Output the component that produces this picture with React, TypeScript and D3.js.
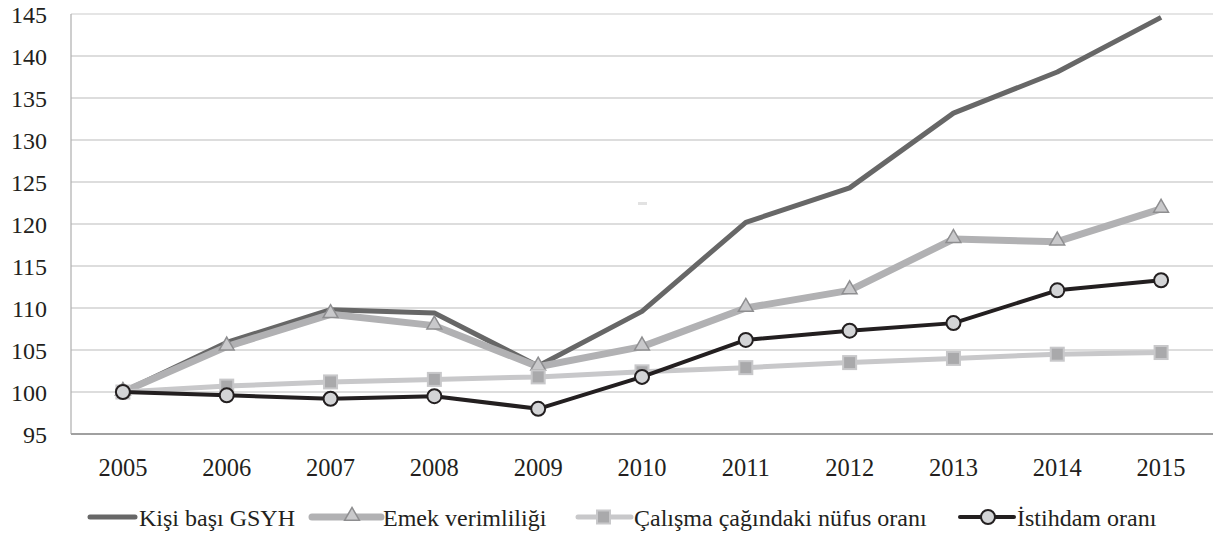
import React from "react";
import * as d3 from "d3";

const years = ["2005", "2006", "2007", "2008", "2009", "2010", "2011", "2012", "2013", "2014", "2015"];
const kisiBasiGSYH = [100, 105.9, 109.8, 109.4, 103.1, 109.6, 120.2, 124.3, 133.2, 138.1, 144.6];
const emekVerimliligi = [100, 105.4, 109.25, 107.9, 103.0, 105.4, 110.0, 112.1, 118.2, 117.9, 121.8];
const calismaNufus = [100, 100.7, 101.2, 101.5, 101.8, 102.4, 102.9, 103.5, 104.0, 104.5, 104.7];
const istihdamOrani = [100, 99.6, 99.2, 99.5, 98.0, 101.8, 106.2, 107.3, 108.2, 112.1, 113.3];
const yTicks = [95, 100, 105, 110, 115, 120, 125, 130, 135, 140, 145];
const seriesNames = ["Kişi başı GSYH", "Emek verimliliği", "Çalışma çağındaki nüfus oranı", "İstihdam oranı"];

const W = 1219;
const H = 536;
const left = 71;
const right = 1213;
const top = 14;
const bottom = 434;
const FONT = "Liberation Serif";

export default function App() {
  const x = d3.scalePoint<string>().domain(years).range([left, right]).padding(0.5);
  const y = d3.scaleLinear().domain([95, 145]).range([bottom, top]);
  const line = d3
    .line<number>()
    .x((_, i) => x(years[i]) as number)
    .y((v) => y(v));

  const tri = d3.symbol().type(d3.symbolTriangle).size(95)() as string;
  const legendY = 517;

  return (
    <div style={{ fontFamily: "'Liberation Serif', serif" }}>
      <svg width={W} height={H} style={{ position: "absolute", left: 0, top: 0, background: "#fff" }}>
        <style>{`text { font-family: 'Liberation Serif', serif; }`}</style>
        <rect x={0} y={0} width={W} height={H} fill="#fff" />
        {yTicks.map((t) => (
          <line
            key={t}
            x1={left}
            x2={right}
            y1={y(t)}
            y2={y(t)}
            stroke={t === 145 ? "#dcdcdc" : "#d2d2d2"}
            strokeWidth={1.3}
          />
        ))}
        <line x1={left} x2={left} y1={top} y2={bottom} stroke="#b4b4b4" strokeWidth={1.3} />
        <line x1={left} x2={right} y1={bottom} y2={bottom} stroke="#a0a0a0" strokeWidth={2} />
        <g fontFamily={FONT}>
          {yTicks.map((t) => (
            <text key={t} x={47} y={y(t) + 8.5} textAnchor="end" fontSize={24} fill="#231f20" fontFamily={FONT}>
              {t}
            </text>
          ))}
          {years.map((yr) => (
            <text key={yr} x={x(yr)} y={476} textAnchor="middle" fontSize={24.5} fill="#231f20" fontFamily={FONT}>
              {yr}
            </text>
          ))}
        </g>
        <rect x={638} y={202} width={9} height={3} fill="#e2e2e2" />

        <path d={line(kisiBasiGSYH) as string} fill="none" stroke="#676767" strokeWidth={5} strokeLinejoin="round" />
        <path d={line(emekVerimliligi) as string} fill="none" stroke="#b1b1b3" strokeWidth={7} strokeLinejoin="round" />
        {emekVerimliligi.map((v, i) => (
          <path
            key={i}
            d={tri}
            transform={`translate(${x(years[i])},${y(v) - 1})`}
            fill="#c9c9cb"
            stroke="#8e8e90"
            strokeWidth={1.5}
          />
        ))}
        <path d={line(calismaNufus) as string} fill="none" stroke="#c8c8ca" strokeWidth={5} strokeLinejoin="round" />
        {calismaNufus.map((v, i) => (
          <rect
            key={i}
            x={(x(years[i]) as number) - 6.5}
            y={y(v) - 6.5}
            width={13}
            height={13}
            fill="#a9a9ab"
            stroke="#c8c8ca"
            strokeWidth={2}
          />
        ))}
        <path d={line(istihdamOrani) as string} fill="none" stroke="#231f20" strokeWidth={4} strokeLinejoin="round" />
        {istihdamOrani.map((v, i) => (
          <circle key={i} cx={x(years[i])} cy={y(v)} r={7} fill="#d3d4d6" stroke="#231f20" strokeWidth={2} />
        ))}

        <line x1={90} x2={135} y1={legendY} y2={legendY} stroke="#676767" strokeWidth={5} strokeLinecap="round" />
        <text x={139} y={legendY + 9} fontSize={24} fill="#231f20" fontFamily={FONT}>{seriesNames[0]}</text>

        <line x1={312} x2={381} y1={legendY} y2={legendY} stroke="#b1b1b3" strokeWidth={7} strokeLinecap="round" />
        <path d={tri} transform={`translate(352,${legendY - 1})`} fill="#c9c9cb" stroke="#8e8e90" strokeWidth={1.5} />
        <text x={383} y={legendY + 9} fontSize={24} fill="#231f20" fontFamily={FONT}>{seriesNames[1]}</text>

        <line x1={578} x2={631} y1={legendY} y2={legendY} stroke="#c8c8ca" strokeWidth={5} strokeLinecap="round" />
        <rect x={597} y={legendY - 6.5} width={13} height={13} fill="#a9a9ab" stroke="#c8c8ca" strokeWidth={2} />
        <text x={634} y={legendY + 9} fontSize={24} fill="#231f20" fontFamily={FONT}>{seriesNames[2]}</text>

        <line x1={960} x2={1014} y1={legendY} y2={legendY} stroke="#231f20" strokeWidth={4} strokeLinecap="round" />
        <circle cx={988} cy={legendY} r={7} fill="#d3d4d6" stroke="#231f20" strokeWidth={2} />
        <text x={1017} y={legendY + 9} fontSize={24} fill="#231f20" fontFamily={FONT}>{seriesNames[3]}</text>
      </svg>
    </div>
  );
}
